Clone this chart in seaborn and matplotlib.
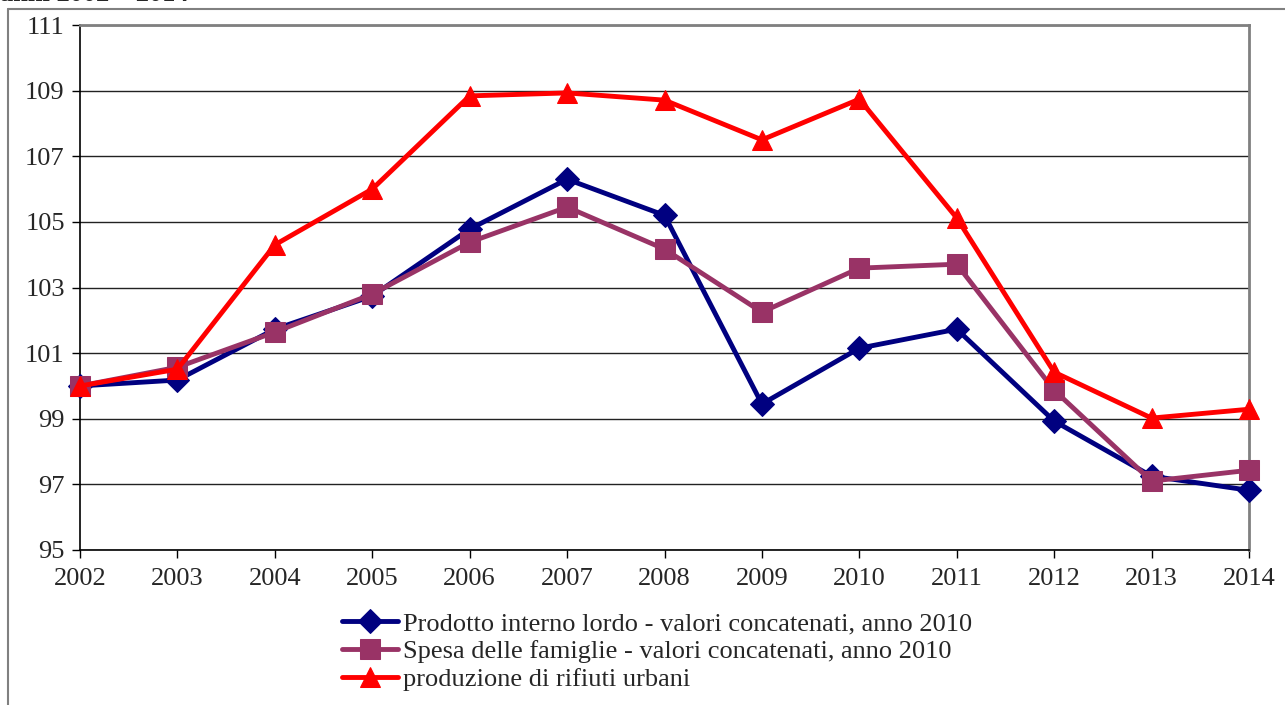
import numpy as np
import pandas as pd
import matplotlib
matplotlib.use("Agg")
import matplotlib.pyplot as plt
import seaborn as sns
from matplotlib.lines import Line2D

years = [2002, 2003, 2004, 2005, 2006, 2007, 2008, 2009, 2010, 2011, 2012, 2013, 2014]
pil = [100.0, 100.18, 101.73, 102.74, 104.78, 106.3, 105.2, 99.45, 101.15, 101.73, 98.93, 97.25, 96.82]
spesa = [100.0, 100.57, 101.64, 102.8, 104.38, 105.45, 104.17, 102.25, 103.59, 103.71, 99.87, 97.1, 97.43]
rifiuti = [100.0, 100.51, 104.3, 106.0, 108.84, 108.93, 108.71, 107.5, 108.74, 105.12, 100.42, 99.02, 99.29]

labels = ["Prodotto interno lordo - valori concatenati, anno 2010",
          "Spesa delle famiglie - valori concatenati, anno 2010",
          "produzione di rifiuti urbani"]
colors = ["#000080", "#993366", "#FF0000"]
markers = ["D", "s", "^"]
msizes = [12, 15, 15]

sns.set_style("white")
plt.rcParams['font.family'] = ['Liberation Serif', 'DejaVu Serif']

fig = plt.figure(figsize=(12.85, 7.05), dpi=100)
ax = fig.add_axes([80 / 1285, 1 - 550 / 705, (1249 - 80) / 1285, (550 - 25) / 705])

series = [pil, spesa, rifiuti]
for i, vals in enumerate(series):
    df = pd.DataFrame({"anno": years, "valore": vals})
    sns.lineplot(data=df, x="anno", y="valore", ax=ax, color=colors[i], marker=markers[i],
                 markersize=msizes[i], markeredgecolor=colors[i], linewidth=3.5,
                 label=labels[i], zorder=3 + i, clip_on=False)

ax.set_xlim(2002, 2014)
ax.set_ylim(95, 111)
ax.set_yticks(np.arange(95, 112, 2))
ax.set_xticks(years)
ax.set_xlabel("")
ax.set_ylabel("")
ax.grid(axis='y', color='#222222', linewidth=1)
ax.set_axisbelow(True)
ax.tick_params(axis='both', labelsize=19, length=6, width=1, color='black', direction='out',
               left=True, bottom=True)
ax.tick_params(axis='x', pad=7)
ax.tick_params(axis='y', pad=5)
for s in ['left', 'bottom']:
    ax.spines[s].set_color('black')
    ax.spines[s].set_linewidth(1.2)
for s in ['top', 'right']:
    ax.spines[s].set_color('#808080')
    ax.spines[s].set_linewidth(2)

ax.legend(loc='upper left', bbox_to_anchor=((329 - 80) / 1169, -0.092), frameon=False, fontsize=19,
          handlelength=2.1, handletextpad=0.2, labelspacing=0.17, borderpad=0)

# outer chart border
fig.add_artist(Line2D([8 / 1285, 8 / 1285], [0, 1 - 9 / 705], color='#808080', linewidth=1.5))
fig.add_artist(Line2D([8 / 1285, 1], [1 - 9 / 705, 1 - 9 / 705], color='#808080', linewidth=1.5))

fig.text(0.0, 1 - 6 / 705, "anni 2002 \u2013 2014", fontsize=19, fontweight='bold', ha='left', va='bottom')

fig.savefig("out.png", dpi=100)
